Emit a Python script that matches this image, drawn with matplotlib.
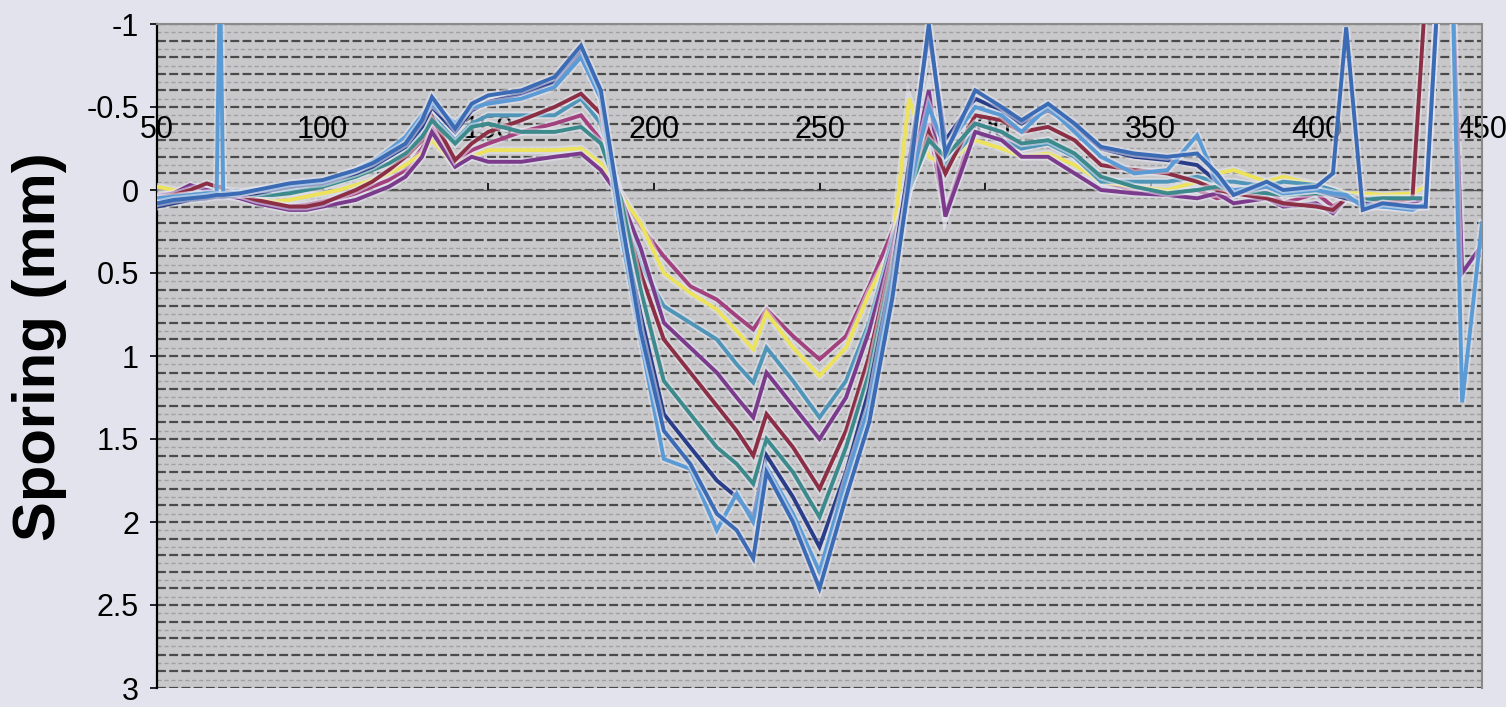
import numpy as np
import matplotlib
matplotlib.use("Agg")
import matplotlib.pyplot as plt
import matplotlib.patheffects as pe

nan = np.nan

# shared distance axis
x = [50, 55, 60, 65, 68, 69, 70, 75, 80, 85, 90, 95, 100, 105, 110, 115, 120, 125, 130, 133,
     140, 145, 150, 160, 170, 178, 184, 190, 196, 203, 211, 219, 225, 230, 234, 242, 250, 258,
     265, 272, 277, 283, 288, 297, 305, 311, 319, 327, 335, 345, 355, 364, 370, 375, 385, 390,
     400, 405, 409, 414, 420, 429, 433, 437, 441, 444, 450]

rose = [0.03, 0.02, 0.0, 0.01, 0.02, 0.02, 0.02, 0.04, 0.07, 0.09, 0.1, 0.09, 0.07, 0.05, 0.02, -0.02,
        -0.06, -0.12, -0.25, -0.4, -0.16, -0.24, -0.28, -0.35, -0.4, -0.45, -0.3, 0.02, 0.22,
        0.4, 0.58, 0.66, 0.76, 0.84, 0.72, 0.88, 1.02, 0.88, 0.58, 0.25, -0.05,
        -0.4, 0.15, -0.4, -0.35, -0.25, -0.3, -0.2, -0.05, 0.0,
        0.02, 0.0, 0.05, 0.03, 0.0, 0.08, 0.02, 0.1, 0.05, 0.05, 0.08, 0.08, 0.05,
        nan, nan, nan, nan]
yellow = [-0.02, 0.0, 0.02, 0.02, 0.03, 0.03, 0.03, 0.04, 0.06, 0.07, 0.06, 0.04, 0.02, 0.0, -0.03, -0.06,
          -0.1, -0.15, -0.22, -0.3, -0.15, -0.2, -0.24, -0.24, -0.24, -0.25, -0.16, 0.03, 0.2,
          0.5, 0.62, 0.72, 0.85, 0.96, 0.74, 0.95, 1.12, 0.95, 0.62, 0.35, -0.55,
          -0.2, -0.15, -0.3, -0.25, -0.2, -0.22, -0.15, -0.05, -0.02,
          0.0, -0.05, -0.1, -0.12, -0.05, -0.08, -0.03, 0.0, 0.02, 0.02, 0.03, 0.02, -0.02,
          nan, nan, nan, nan]
tealblue = [0.04, 0.03, 0.02, 0.0, 0.0, 0.0, 0.0, 0.01, 0.0, 0.0, 0.0, -0.02, -0.04, -0.06, -0.1, -0.14,
            -0.2, -0.25, -0.35, -0.45, -0.3, -0.4, -0.45, -0.45, -0.45, -0.55, -0.4, 0.05, 0.45,
            0.7, 0.8, 0.9, 1.05, 1.16, 0.95, 1.15, 1.37, 1.15, 0.8, 0.3, 0.0,
            -0.3, -0.15, -0.35, -0.3, -0.25, -0.28, -0.2, -0.05, -0.05,
            -0.05, -0.08, -0.05, -0.05, -0.02, -0.05, -0.03, 0.0, 0.03, 0.05, 0.05, 0.05, 0.05,
            nan, nan, nan, nan]
purple = [0.04, 0.02, -0.03, 0.0, 0.02, 0.02, 0.03, 0.05, 0.08, 0.1, 0.12, 0.12, 0.1, 0.08, 0.06, 0.02,
          -0.02, -0.08, -0.2, -0.35, -0.14, -0.2, -0.17, -0.17, -0.2, -0.22, -0.12, 0.05, 0.35,
          0.8, 0.95, 1.1, 1.25, 1.37, 1.1, 1.3, 1.5, 1.25, 0.85, 0.35, -0.05,
          -0.6, 0.16, -0.35, -0.3, -0.2, -0.2, -0.1, 0.0, 0.02,
          0.03, 0.05, 0.02, 0.08, 0.05, 0.1, 0.08, 0.14, 0.05, 0.08, 0.1, 0.08, 0.05,
          -1.3, -1.3, 0.5, 0.33]
maroon = [0.05, 0.03, 0.0, -0.04, -0.02, -0.02, 0.0, 0.03, 0.06, 0.08, 0.1, 0.1, 0.08, 0.04, 0.0, -0.05,
          -0.12, -0.2, -0.3, -0.44, -0.18, -0.28, -0.35, -0.42, -0.5, -0.58, -0.46, 0.1, 0.5,
          0.9, 1.1, 1.3, 1.45, 1.6, 1.35, 1.55, 1.8, 1.45, 1.0, 0.4, 0.0,
          -0.35, -0.1, -0.45, -0.42, -0.35, -0.38, -0.3, -0.15, -0.12,
          -0.1, -0.05, 0.0, 0.02, 0.05, 0.08, 0.1, 0.12, 0.05, 0.05, 0.08, 0.05, -1.2,
          -1.3, -1.3, -1.3, -1.3]
teal = [0.05, 0.05, 0.03, 0.02, 0.02, 0.02, 0.02, 0.02, 0.03, 0.03, 0.02, 0.0, -0.02, -0.05, -0.08, -0.12,
        -0.16, -0.22, -0.32, -0.42, -0.28, -0.38, -0.4, -0.35, -0.35, -0.38, -0.28, 0.05, 0.6,
        1.15, 1.35, 1.55, 1.65, 1.77, 1.5, 1.7, 1.97, 1.55, 1.1, 0.45, 0.0,
        -0.3, -0.2, -0.4, -0.35, -0.28, -0.3, -0.22, -0.08, -0.02,
        0.02, 0.0, -0.02, 0.0, 0.02, 0.03, 0.02, 0.03, 0.05, 0.06, 0.05, 0.05, 0.05,
        nan, nan, nan, nan]
navy = [0.1, 0.08, 0.06, 0.05, 0.04, 0.04, 0.04, 0.03, 0.02, 0.0, -0.02, -0.03, -0.04, -0.07, -0.1, -0.14,
        -0.2, -0.26, -0.38, -0.5, -0.35, -0.48, -0.53, -0.58, -0.65, -0.83, -0.55, 0.2, 0.75,
        1.35, 1.55, 1.75, 1.85, 1.97, 1.6, 1.85, 2.15, 1.7, 1.2, 0.5, -0.15,
        -0.95, -0.3, -0.55, -0.48, -0.4, -0.48, -0.38, -0.25, -0.2,
        -0.18, -0.15, -0.05, 0.02, -0.02, 0.02, 0.0, 0.03, 0.05, 0.08, 0.1, 0.1, 0.1,
        nan, nan, nan, nan]
lightblue = [0.05, 0.04, 0.03, 0.02, 0.02, -1.3, 0.02, 0.02, 0.0, -0.01, -0.03, -0.04, -0.05, -0.08, -0.12, -0.17,
             -0.24, -0.32, -0.45, -0.52, -0.4, -0.5, -0.52, -0.55, -0.62, -0.8, -0.55, 0.25, 0.9,
             1.62, 1.68, 2.05, 1.83, 2.0, 1.67, 1.95, 2.3, 1.75, 1.3, 0.55, 0.0,
             -0.5, -0.25, -0.5, -0.45, -0.35, -0.5, -0.35, -0.2, -0.1,
             -0.12, -0.33, -0.05, 0.0, -0.02, 0.02, 0.0, 0.02, 0.03, 0.1, 0.1, 0.12, 0.08,
             -1.3, -1.3, 1.28, 0.2]
blue = [0.08, 0.06, 0.05, 0.04, 0.03, 0.03, 0.03, 0.02, 0.0, -0.02, -0.04, -0.05, -0.06, -0.09, -0.12, -0.16,
        -0.22, -0.28, -0.42, -0.56, -0.37, -0.52, -0.57, -0.6, -0.68, -0.87, -0.6, 0.15, 0.85,
        1.45, 1.65, 1.95, 2.05, 2.22, 1.7, 2.0, 2.4, 1.85, 1.4, 0.65, -0.05,
        -1.0, -0.22, -0.6, -0.5, -0.42, -0.52, -0.4, -0.26, -0.22,
        -0.2, -0.22, -0.1, 0.03, -0.05, 0.0, -0.02, -0.1, -0.98, 0.12, 0.08, 0.1, 0.1,
        -1.3, -1.3, -1.3, -1.3]

series = [
    (rose, "#a3407e"),
    (yellow, "#ece25c"),
    (tealblue, "#4e95b8"),
    (purple, "#7b3a8c"),
    (maroon, "#8c2f45"),
    (teal, "#3c8a8c"),
    (navy, "#2a3d88"),
    (lightblue, "#5b9bd5"),
    (blue, "#3b6bb5"),
]

yticks = [-1, -0.5, 0, 0.5, 1, 1.5, 2, 2.5, 3]
ytick_labels = ["-1", "-0.5", "0", "0.5", "1", "1.5", "2", "2.5", "3"]
xticks = [50, 100, 150, 200, 250, 300, 350, 400, 450]

plt.rcParams["font.family"] = ["Liberation Sans", "DejaVu Sans"]

fig = plt.figure(figsize=(15.06, 7.07), dpi=100, facecolor="#e2e3ec")
ax = fig.add_axes([157 / 1506, 1 - 688 / 707, (1482 - 157) / 1506, 664 / 707])
ax.set_facecolor("#c8c8ca")

# dense horizontal grid
for v in np.arange(-1.0, 3.0001, 0.1):
    ax.axhline(v, color="#4a4a4a", lw=1.6, ls=(0, (4, 1.5)), zorder=1)
for v in np.arange(-0.95, 3.0, 0.1):
    ax.axhline(v, color="#a0a0a2", lw=1.0, ls=(0, (3, 2)), zorder=1)

halo = [pe.Stroke(linewidth=5.5, foreground="#e6e6f2", alpha=0.55), pe.Normal()]
for vals, col in series:
    ax.plot(x, vals, color=col, lw=2.8, zorder=3, path_effects=halo, solid_joinstyle="miter")

ax.set_xlim(50, 450)
ax.set_ylim(3, -1)
ax.set_yticks(yticks)
ax.set_yticklabels(ytick_labels)
ax.set_xticks(xticks)

ax.spines["bottom"].set_position(("data", 0))
ax.spines["bottom"].set_color("#555555")
ax.spines["bottom"].set_linewidth(1.0)
ax.spines["left"].set_color("black")
ax.spines["left"].set_linewidth(1.6)
for s in ["top", "right"]:
    ax.spines[s].set_color("#8a8a8a")
    ax.spines[s].set_linewidth(1.5)

ax.tick_params(axis="y", direction="out", length=5, width=1.2, labelsize=22, pad=8)
ax.tick_params(axis="x", direction="in", length=5, width=1.2, labelsize=22, pad=-54)

fig.text(40 / 1506, 1 - 347 / 707, "Sporing (mm)", rotation=90, fontsize=43,
         fontweight="bold", ha="center", va="center")

fig.savefig("out.png", dpi=100, facecolor=fig.get_facecolor())
